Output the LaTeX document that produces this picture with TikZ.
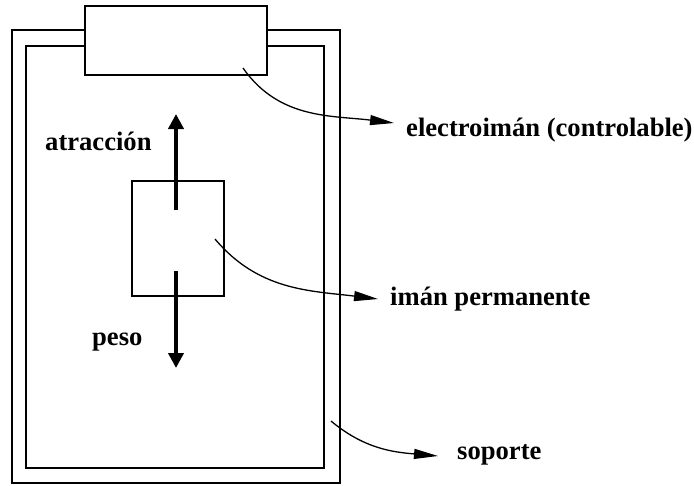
\documentclass[tikz,border=0pt]{standalone}
\usepackage{fontspec}
\setmainfont{Liberation Serif}
\usetikzlibrary{arrows.meta}
\tikzset{
  frame/.style={draw,line width=1.3pt},
  box/.style={draw,line width=1.3pt,fill=white,inner sep=0pt},
  force/.style={line width=4pt,-{Triangle[length=15pt,width=15pt]}},
  pointer/.style={line width=1.3pt,-{Triangle[length=24pt,width=10pt]}},
  lbl/.style={font=\fontsize{26.6}{30}\selectfont\bfseries,inner sep=0pt,anchor=base west}
}
\begin{document}
\begin{tikzpicture}[x=1pt,y=-1pt]
\useasboundingbox (0,0) rectangle (694,485);
% support frame
\draw[frame] (12,30) rectangle (340,483);
\draw[frame] (26,46) rectangle (324,468);
% electromagnet
\node[box,minimum width=182pt,minimum height=69pt] (em) at (176,40.5) {};
% permanent magnet
\node[box,minimum width=92pt,minimum height=115pt] (pm) at (178,238.5) {};
% forces
\coordinate (fu0) at (176,210);
\coordinate (fu1) at (176,114);
\coordinate (fd0) at (176,271);
\coordinate (fd1) at (176,368);
\draw[force] (fu0) -- (fu1);
\draw[force] (fd0) -- (fd1);
% labels
\node[lbl] (latr) at (45,150) {atracción};
\node[lbl] (lpes) at (92,345) {peso};
\node[lbl] (lem) at (406,136) {electroimán (controlable)};
\node[lbl] (lpm) at (390,305) {imán permanente};
\node[lbl] (lsop) at (457,459) {soporte};
% pointers
\coordinate (pe0) at (243,68);
\coordinate (pe1) at (394,123);
\coordinate (pp0) at (215,239);
\coordinate (pp1) at (378,299);
\coordinate (ps0) at (331,421);
\coordinate (ps1) at (438,456);
\draw[pointer] (pe0) to[out=-55,in=173] (pe1);
\draw[pointer] (pp0) to[out=-50,in=173] (pp1);
\draw[pointer] (ps0) to[out=-40,in=175] (ps1);
\end{tikzpicture}
\end{document}
